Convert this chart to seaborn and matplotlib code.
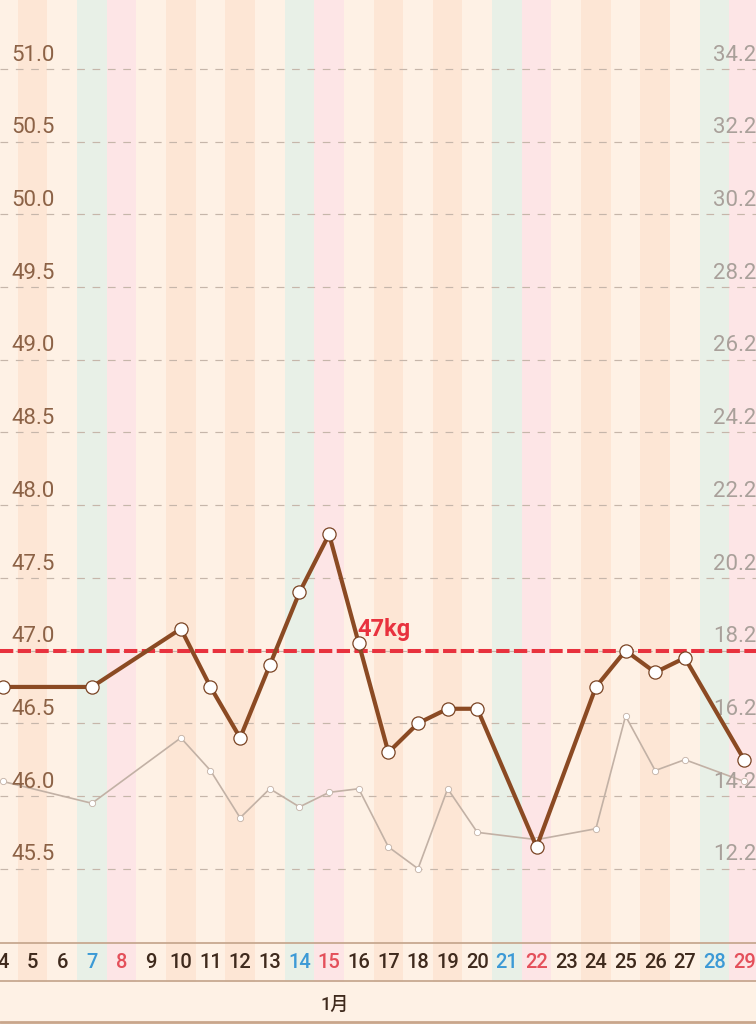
import pandas as pd
import matplotlib.pyplot as plt
import seaborn as sns
from matplotlib.lines import Line2D

# --- data ---

# days shown along the bottom (January)
days = list(range(4, 30))
month_label = "1月"

# weight in kg (left axis), only days that have a record
weight_days = [4, 7, 10, 11, 12, 13, 14, 15, 16, 17, 18, 19, 20, 22, 24, 25, 26, 27, 29]
weight = [46.75, 46.75, 47.15, 46.75, 46.4, 46.9, 47.4, 47.8, 47.05, 46.3,
          46.5, 46.6, 46.6, 45.65, 46.75, 47.0, 46.85, 46.95, 46.25]

# body fat % (right axis)
fat_days = [4, 7, 10, 11, 12, 13, 14, 15, 16, 17, 18, 19, 20, 22, 24, 25, 26, 27, 29]
fat = [14.6, 14.0, 15.8, 14.9, 13.6, 14.4, 13.9, 14.3, 14.4, 12.8,
       12.2, 14.4, 13.2, 13.0, 13.3, 16.4, 14.9, 15.2, 14.6]

weight_ticks = [45.5, 46.0, 46.5, 47.0, 47.5, 48.0, 48.5, 49.0, 49.5, 50.0, 50.5, 51.0]
fat_ticks = [12.2, 14.2, 16.2, 18.2, 20.2, 22.2, 24.2, 26.2, 28.2, 30.2, 32.2, 34.2]

goal = 47.0
goal_label = "47kg"

# --- colours ---
BG = "#FEF1E5"
PEACH = "#FDE6D5"
GREEN = "#E8F0E7"
PINK = "#FDE5E6"
BROWN = "#8B4A23"
GRAY_LINE = "#C2B1A5"
RED = "#E8323E"

sns.set_style("white")
plt.rcParams["font.family"] = ["Roboto", "Noto Sans CJK JP", "DejaVu Sans"]

df_w = pd.DataFrame({"day": weight_days, "kg": weight})
df_f = pd.DataFrame({"day": fat_days, "pct": fat})

fig = plt.figure(figsize=(7.56, 10.24), dpi=100, facecolor=BG)
ax = fig.add_axes([0, 42 / 1024, 1, 982 / 1024])
ax2 = ax.twinx()

# weight axis <-> fat axis: pct = 4 * kg - 169.8
w_lo, w_hi = 44.721, 51.474
ax.set_ylim(w_lo, w_hi)
ax2.set_ylim(4 * w_lo - 169.8, 4 * w_hi - 169.8)
ax.set_xlim(3.9, 29.4)
ax2.set_xlim(3.9, 29.4)

# the fat axis sits underneath and carries the background stripes
ax2.set_zorder(0)
ax.set_zorder(1)
ax.patch.set_visible(False)
ax2.set_facecolor(BG)

for d in range(3, 31):
    wd = (d - 7) % 7  # 0 = Saturday, 1 = Sunday
    if wd == 0:
        c = GREEN
    elif wd == 1:
        c = PINK
    elif wd in (3, 5):
        c = PEACH
    else:
        c = BG
    ax2.axvspan(d - 0.5, d + 0.5, color=c, lw=0, zorder=0)

ax2.set_yticks(fat_ticks)
ax2.grid(axis="y", color="#C6B6AA", lw=0.85, ls=(0, (6.5, 6.5)))
ax2.grid(axis="x", visible=False)

# body fat line
sns.lineplot(data=df_f, x="day", y="pct", ax=ax2, color=GRAY_LINE, lw=1.2,
             marker="o", markersize=4.5, markerfacecolor="white",
             markeredgecolor=GRAY_LINE, markeredgewidth=0.6, zorder=3)

# goal line
ax.axhline(goal, color=RED, lw=2.9, ls=(0, (3.3, 1.1)), zorder=2)
ax.annotate(goal_label, xy=(15.95, goal), xytext=(0, 10.5), textcoords="offset points",
            color=RED, fontsize=17, fontweight="bold", va="baseline", ha="left")

# weight line
sns.lineplot(data=df_w, x="day", y="kg", ax=ax, color=BROWN, lw=3,
             marker="o", markersize=9.5, markerfacecolor="white",
             markeredgecolor="#7A4424", markeredgewidth=0.9, zorder=4)

# y labels drawn inside the plot, sitting on top of each grid line
for v in weight_ticks:
    ax.annotate(f"{v:.1f}", xy=(0.015, v), xycoords=("axes fraction", "data"),
                xytext=(0, 6), textcoords="offset points",
                color="#8C6246", fontsize=16, va="baseline", ha="left")
for v in fat_ticks:
    ax2.annotate(f"{v:.1f}", xy=(0.943, v), xycoords=("axes fraction", "data"),
                 xytext=(0, 6), textcoords="offset points",
                 color="#A9A09A", fontsize=16, va="baseline", ha="left")

# day row at the bottom of the plot
ax.axhline(44.99, color="#C7A890", lw=1.3, zorder=2)
ax.axhline(w_lo + 0.004, color="#C7A890", lw=1.3, zorder=2)
for d in days:
    wd = (d - 7) % 7
    c = "#3C9AD6" if wd == 0 else ("#E4505B" if wd == 1 else "#3F2A1D")
    ax.text(d, 44.855, str(d), color=c, fontsize=14.5, fontweight="medium",
            ha="center", va="center", clip_on=True)

for a in (ax, ax2):
    a.set_xlabel("")
    a.set_ylabel("")
    a.tick_params(left=False, right=False, bottom=False,
                  labelleft=False, labelright=False, labelbottom=False)
    for s in a.spines.values():
        s.set_visible(False)

fig.text(335 / 756, 1 - 1005 / 1024, month_label, color="#3F2A1D", fontsize=13,
         fontweight="medium", ha="center", va="center")
fig.add_artist(Line2D([0, 1], [2 / 1024, 2 / 1024], transform=fig.transFigure,
                      color="#C9A68C", lw=2))

fig.savefig("out.png", dpi=100, facecolor=BG)
